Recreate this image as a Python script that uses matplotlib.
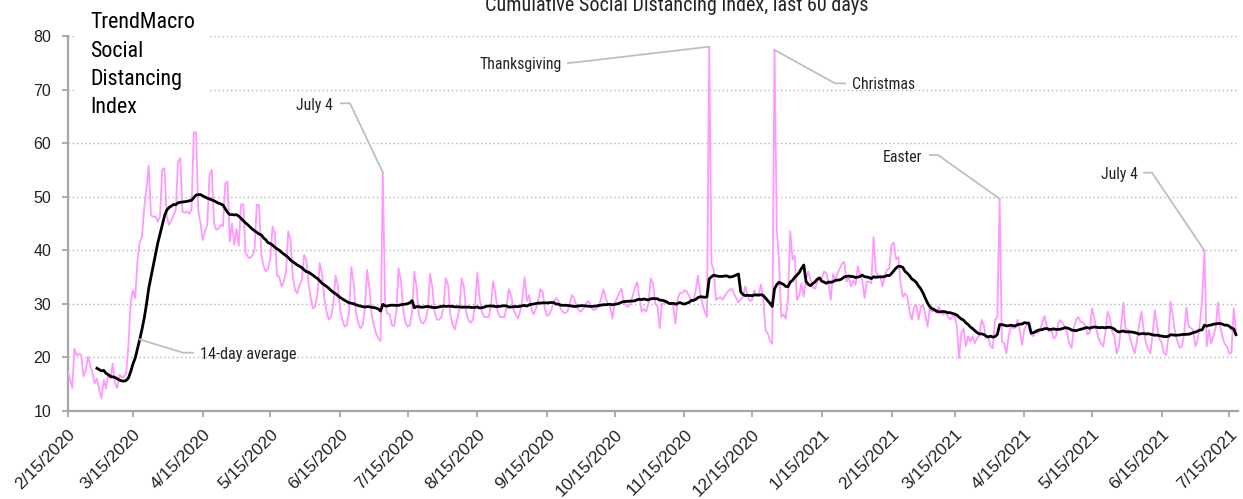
import os
import matplotlib
matplotlib.use("Agg")
import matplotlib.pyplot as plt
import matplotlib.dates as mdates
from matplotlib import font_manager
from matplotlib.font_manager import FontProperties
from matplotlib.lines import Line2D
from matplotlib.transforms import IdentityTransform
import pandas as pd

# ---------------- data ----------------
start_date = "2020-02-15"
title = "Cumulative Social Distancing Index, last 60 days"
chart_label = ["TrendMacro", "Social", "Distancing", "Index"]
avg_label = "14-day average"
avg_window = 14

# daily index, one row per week (Sat .. Fri)
daily_index = [
    17.3, 16.0, 14.2, 21.6, 20.3, 20.6, 20.4,
    16.4, 17.5, 20.1, 18.5, 17.0, 15.1, 16.0,
    13.9, 12.3, 15.7, 14.2, 16.7, 16.0, 18.8,
    15.1, 14.2, 16.7, 16.2, 16.4, 17.0, 22.5,
    30.5, 32.5, 31.0, 38.0, 41.5, 42.5, 48.0,
    51.5, 55.8, 46.5, 46.2, 46.3, 45.3, 46.3,
    55.0, 55.3, 46.3, 44.7, 45.5, 46.5, 47.5,
    56.5, 57.2, 47.2, 47.0, 47.2, 46.8, 47.5,
    62.0, 62.0, 47.5, 45.0, 41.9, 43.5, 44.7,
    54.0, 55.0, 45.0, 43.8, 44.0, 44.7, 44.5,
    52.5, 52.8, 41.6, 45.0, 41.0, 44.0, 40.8,
    48.5, 48.6, 39.5, 38.8, 38.5, 39.0, 40.0,
    48.5, 48.4, 39.4, 37.0, 36.0, 36.5, 38.5,
    44.4, 43.2, 35.2, 35.0, 33.2, 34.1, 36.0,
    43.5, 41.9, 35.0, 32.6, 31.9, 33.5, 34.4,
    39.1, 38.2, 33.8, 31.0, 29.1, 29.5, 32.0,
    37.6, 35.5, 31.0, 28.5, 27.0, 27.5, 30.0,
    35.2, 33.5, 29.0, 27.0, 25.7, 26.0, 28.5,
    36.8, 34.0, 28.5, 26.5, 25.4, 26.0, 29.0,
    36.3, 33.0, 28.0, 26.0, 24.5, 23.5, 23.0,
    54.5, 30.0, 28.2, 28.0, 26.0, 25.8, 28.5,
    36.6, 34.5, 29.0, 26.5, 25.7, 26.0, 28.5,
    36.0, 33.0, 28.0, 26.5, 26.3, 27.0, 29.0,
    35.6, 33.0, 28.5, 27.0, 27.0, 27.5, 29.5,
    34.8, 33.5, 28.0, 26.0, 25.2, 27.0, 29.0,
    34.7, 33.2, 28.5, 27.0, 26.4, 27.0, 30.0,
    35.8, 31.0, 28.5, 27.5, 27.5, 27.5, 29.5,
    34.2, 32.0, 28.5, 27.5, 27.5, 27.5, 29.5,
    32.7, 31.5, 29.0, 28.0, 27.2, 28.5, 31.0,
    34.9, 30.5, 31.6, 29.0, 28.0, 29.0, 30.5,
    32.7, 32.2, 29.0, 27.7, 28.0, 29.0, 30.5,
    31.0, 30.5, 29.0, 28.5, 28.2, 28.5, 30.0,
    31.6, 31.0, 29.5, 28.8, 28.5, 29.0, 29.8,
    30.5, 30.0, 29.0, 28.8, 29.1, 29.5, 31.0,
    32.7, 31.0, 30.0, 29.5, 27.2, 30.0, 31.0,
    32.0, 32.8, 30.5, 29.5, 29.4, 30.0, 31.5,
    33.0, 34.0, 31.0, 28.5, 29.0, 28.5, 30.0,
    34.7, 33.8, 30.0, 29.5, 25.4, 30.0, 30.0,
    30.5, 30.0, 30.2, 29.5, 26.3, 31.0, 32.0,
    32.0, 32.5, 32.3, 31.5, 30.5, 30.4, 32.5,
    35.2, 32.0, 29.9, 28.5, 27.5, 78.0, 37.5,
    36.3, 30.7, 31.0, 31.2, 30.7, 31.5, 32.2,
    32.5, 32.8, 31.9, 31.0, 30.2, 30.8, 31.3,
    33.2, 31.5, 30.5, 30.7, 32.5, 31.5, 31.8,
    33.6, 31.0, 25.0, 24.5, 23.0, 22.5, 77.4,
    44.0, 38.0, 27.5, 28.0, 27.2, 31.0, 43.5,
    38.2, 39.0, 30.7, 31.5, 33.8, 31.3, 34.7,
    36.0, 34.5, 33.0, 32.8, 34.0, 34.5, 34.7,
    36.0, 35.7, 34.0, 30.7, 35.5, 34.5, 35.7,
    36.6, 37.5, 37.8, 34.1, 35.0, 33.2, 34.4,
    33.5, 37.0, 35.5, 34.4, 31.0, 34.1, 34.1,
    33.8, 42.4, 36.3, 35.0, 35.3, 33.2, 35.3,
    36.3, 36.6, 41.0, 41.4, 38.3, 38.7, 33.8,
    31.3, 31.9, 31.3, 28.5, 27.0, 29.4, 29.8,
    27.0, 29.4, 29.8, 28.0, 25.7, 29.1, 28.5,
    28.8, 28.2, 29.4, 28.5, 27.9, 28.5, 27.6,
    27.0, 27.6, 27.9, 25.7, 19.8, 24.5, 25.4,
    22.0, 23.9, 22.9, 23.9, 22.6, 23.5, 24.2,
    27.0, 26.0, 23.6, 23.6, 22.0, 21.7, 27.0,
    27.5, 49.6, 22.9, 22.6, 20.7, 23.9, 25.7,
    25.4, 25.5, 27.0, 24.8, 22.3, 25.4, 26.0,
    26.6, 24.2, 23.9, 25.1, 24.5, 25.1, 26.5,
    27.7, 25.7, 24.8, 25.1, 23.5, 23.8, 26.3,
    26.9, 26.3, 25.7, 24.5, 22.5, 21.7, 25.5,
    27.0, 27.5, 26.6, 26.5, 26.0, 24.3, 24.5,
    29.1, 27.5, 25.1, 23.5, 22.6, 22.0, 24.5,
    28.5, 27.3, 24.8, 23.8, 20.7, 22.0, 26.0,
    30.2, 25.1, 25.2, 23.5, 22.0, 20.7, 23.0,
    26.0, 28.5, 25.1, 22.6, 21.5, 20.7, 24.5,
    28.8, 25.7, 23.5, 22.6, 20.8, 20.4, 23.8,
    30.4, 27.6, 24.5, 23.0, 21.7, 22.0, 24.5,
    29.3, 25.8, 25.4, 25.1, 22.0, 23.2, 26.3,
    31.0, 39.9, 22.0, 25.1, 22.6, 24.0, 25.5,
    30.2, 25.7, 23.8, 22.5, 22.0, 20.7, 20.8,
    29.1, 24.8,
]

tick_labels = ["2/15/2020", "3/15/2020", "4/15/2020", "5/15/2020", "6/15/2020",
               "7/15/2020", "8/15/2020", "9/15/2020", "10/15/2020", "11/15/2020",
               "12/15/2020", "1/15/2021", "2/15/2021", "3/15/2021", "4/15/2021",
               "5/15/2021", "6/15/2021", "7/15/2021"]
y_ticks = [10, 20, 30, 40, 50, 60, 70, 80]

holiday_names = ["July 4", "Thanksgiving", "Christmas", "Easter", "July 4"]
holiday_dates = ["2020-07-04", "2020-11-26", "2020-12-25", "2021-04-04", "2021-07-04"]
avg_pointer_date = "2020-03-18"


# ---------------- fonts ----------------
def pick_font(prefs):
    files = {os.path.basename(f.fname).lower(): f.fname for f in font_manager.fontManager.ttflist}
    for p in prefs:
        for k, v in files.items():
            if k.startswith(p):
                return FontProperties(fname=v)
    return None


narrow_fp = pick_font(["liberationsansnarrow-regular", "robotocondensed-regular",
                       "roboto_condensed-regular", "dejavusanscondensed.ttf",
                       "notosans-condensed.", "notosans-condensed-regular",
                       "opensans-condensedregular", "opensans_condensed-regular"])
if narrow_fp is None:
    narrow_fp = FontProperties(family="Roboto")
regular_fp = pick_font(["liberationsans-regular"]) or FontProperties(family="DejaVu Sans")


def fp(base, size):
    f = base.copy()
    f.set_size(size)
    return f


W, H = 1243, 499
fig = plt.figure(figsize=(W / 100, H / 100), dpi=100)
ax = fig.add_axes([67.7 / W, 1 - 410.7 / H, (1238.2 - 67.7) / W, (410.7 - 36) / H])

dates = pd.date_range(start_date, periods=len(daily_index), freq="D")
series = pd.Series(daily_index, index=dates)
avg = series.rolling(avg_window).mean()

PINK = "#ff99ff"
GRAY = "#a6a6a6"

ax.plot(dates, series.values, color=PINK, lw=1.3, zorder=3)
ax.plot(dates, avg.values, color="black", lw=2.0, zorder=4)

x0 = pd.Timestamp(start_date)
ax.set_xlim(x0, x0 + pd.Timedelta(days=520))
ax.set_ylim(10, 80)

tick_dates = pd.to_datetime(tick_labels, format="%m/%d/%Y")
ax.set_xticks(tick_dates)
ax.set_xticklabels(tick_labels, rotation=45, ha="right", va="top",
                   rotation_mode="anchor", fontproperties=fp(regular_fp, 12.5), color="#222222")
ax.set_yticks(y_ticks)
ax.set_yticklabels([str(v) for v in y_ticks], fontproperties=fp(regular_fp, 11.5), color="#222222")

ax.tick_params(axis="x", length=4, width=1.3, color=GRAY, pad=7.5)
ax.tick_params(axis="y", length=4, width=1.3, color=GRAY, pad=8)

for s in ["top", "right"]:
    ax.spines[s].set_visible(False)
for s in ["left", "bottom"]:
    ax.spines[s].set_color(GRAY)
    ax.spines[s].set_linewidth(1.6)

ax.set_axisbelow(True)
ax.yaxis.grid(True, color="#b5b5b5", linestyle=(0, (1, 2)), linewidth=1.0)
ax.xaxis.grid(False)


def px(x, ytop):
    return (x, H - ytop)


# white label box over the gridlines
fig.patches.append(plt.Rectangle((75 / W, 1 - 125 / H), (208 - 75) / W, 125 / H,
                                 transform=fig.transFigure, facecolor="white",
                                 edgecolor="none", zorder=1))
for txt, yb in zip(chart_label, [28.3, 56.7, 85.0, 113.3]):
    fig.text(90 / W, 1 - yb / H, txt, ha="left", va="baseline",
             fontproperties=fp(narrow_fp, 15.8), color="black", zorder=5)

fig.text(677 / W, 1 - 11 / H, title, ha="center", va="baseline",
         fontproperties=fp(narrow_fp, 14.5), color="#222222")

LINEC = "#bfbfbf"


def data_px(date, value):
    d = mdates.date2num(pd.Timestamp(date))
    return ax.transData.transform((d, value))


def conn(points):
    xs = [p[0] for p in points]
    ys = [p[1] for p in points]
    fig.add_artist(Line2D(xs, ys, transform=IdentityTransform(), color=LINEC, lw=1.3, zorder=2))


layout = [
    dict(tx=333, tb=110.2, ha="right", path=[(340.7, 103.3), (350, 103.3)]),
    dict(tx=562, tb=68.6, ha="right", path=[(568, 63), (576, 62.3)]),
    dict(tx=851.7, tb=89.2, ha="left", path=[(845, 83.5), (835, 83.3)]),
    dict(tx=921.7, tb=161.9, ha="right", path=[(930, 155), (938, 155)]),
    dict(tx=1138, tb=178.6, ha="right", path=[(1144, 172.7), (1152, 172.7)]),
]
for name, hd, lay in zip(holiday_names, holiday_dates, layout):
    val = series.loc[pd.Timestamp(hd)]
    p = data_px(hd, val)
    pts = [px(*q) for q in lay["path"]] + [tuple(p)]
    conn(pts)
    fig.text(lay["tx"] / W, 1 - lay["tb"] / H, name, ha=lay["ha"], va="baseline",
             fontproperties=fp(narrow_fp, 11.3), color="#222222")

pv = avg.loc[pd.Timestamp(avg_pointer_date)]
p = data_px(avg_pointer_date, pv)
conn([tuple(p), px(183, 352.7), px(193, 352.7)])
fig.text(200 / W, 1 - 358.6 / H, avg_label, ha="left", va="baseline",
         fontproperties=fp(narrow_fp, 11.6), color="#222222")

fig.savefig("out.png", dpi=100, facecolor="white")
